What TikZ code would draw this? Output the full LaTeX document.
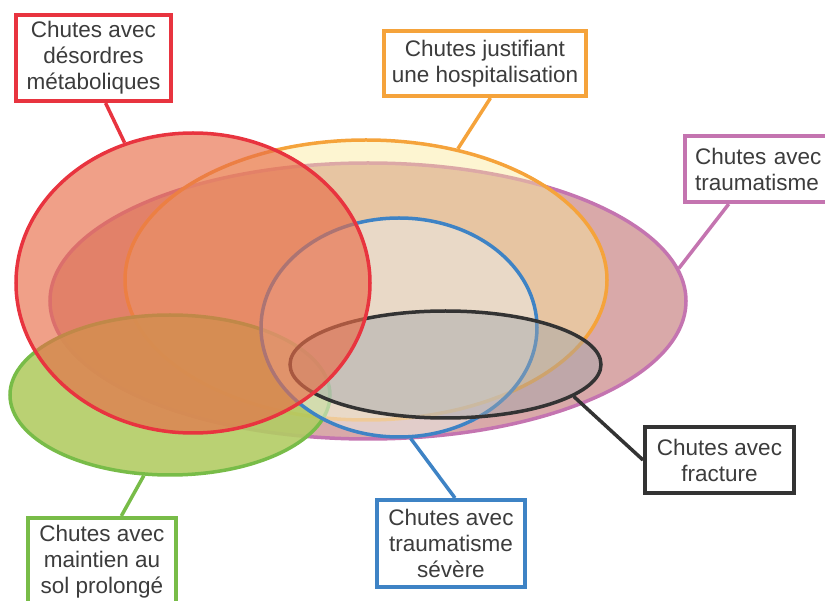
\documentclass[tikz,border=0pt]{standalone}
\usepackage{fontspec}
\setmainfont{Liberation Sans}
\usetikzlibrary{shapes.geometric}
\definecolor{cRed}{RGB}{232,52,63}
\definecolor{cOra}{RGB}{245,163,59}
\definecolor{cPur}{RGB}{196,116,176}
\definecolor{cBlu}{RGB}{62,131,197}
\definecolor{cBla}{RGB}{51,51,51}
\definecolor{cGre}{RGB}{120,188,72}
\definecolor{fPur}{RGB}{217,169,169}
\definecolor{fOra}{RGB}{250,233,154}
\definecolor{fGre}{RGB}{178,204,100}
\definecolor{fBlu}{RGB}{235,235,230}
\definecolor{fBla}{RGB}{160,165,170}
\definecolor{fRed}{RGB}{232,109,72}
\definecolor{txt}{RGB}{60,60,60}
\begin{document}
\begin{tikzpicture}[x=1pt,y=-1pt,
  ell/.style={ellipse, inner sep=0pt, draw, line width=3.5pt},
  lbl/.style={rectangle, draw, line width=4pt, fill=white, inner sep=0pt, align=center,
    font=\fontsize{22.5}{26}\selectfont, text=txt},
  conn/.style={line width=3.5pt}]
\useasboundingbox (0,0) rectangle (825,601);
\clip (0,0) rectangle (825,601);
% ellipses
\node[ell, draw=cPur, fill=fPur, minimum width=636pt, minimum height=276pt] (trauma) at (368,301) {};
\node[ell, draw=cOra, fill=fOra, fill opacity=0.45, minimum width=482pt, minimum height=280pt] (hosp) at (366,280) {};
\node[ell, draw=cGre, fill=fGre, fill opacity=0.9, minimum width=320pt, minimum height=160pt] (sol) at (170,395) {};
\node[ell, draw=cBlu, fill=fBlu, fill opacity=0.55, minimum width=276pt, minimum height=219pt] (severe) at (399,327.5) {};
\node[ell, draw=cBla, fill=fBla, fill opacity=0.45, minimum width=311pt, minimum height=107pt] (fract) at (445.5,364.5) {};
\node[ell, draw=cRed, fill=fRed, fill opacity=0.65, minimum width=354pt, minimum height=300pt] (meta) at (193,283) {};
% label boxes
\node[lbl, draw=cRed, minimum width=155pt, minimum height=86pt] (bmeta) at (93.5,58) {Chutes avec\\désordres\\métaboliques};
\node[lbl, draw=cOra, minimum width=202pt, minimum height=65pt] (bhosp) at (485,63.5) {Chutes justifiant\\une hospitalisation};
\node[lbl, draw=cPur, minimum width=160pt, minimum height=66pt, text width=140pt, align=left] (btrauma) at (765,169) {Chutes avec\\traumatisme};
\node[lbl, draw=cBla, minimum width=149pt, minimum height=66pt] (bfract) at (719.5,460) {Chutes avec\\fracture};
\node[lbl, draw=cBlu, minimum width=148pt, minimum height=87pt] (bsevere) at (451,543.5) {Chutes avec\\traumatisme\\sévère};
\node[lbl, draw=cGre, minimum width=148pt, minimum height=87pt] (bsol) at (102,561.5) {Chutes avec\\maintien au\\sol prolongé};
% connectors
\draw[conn, cRed] (bmeta.-75) -- (meta.116);
\draw[conn, cOra] (bhosp.-81) -- (hosp.55);
\draw[conn, cPur] (btrauma.-136) -- (trauma.6);
\draw[conn, cBla] (bfract.west) -- (fract.-14);
\draw[conn, cBlu] (bsevere.85) -- (severe.-84);
\draw[conn, cGre] (bsol.67) -- (sol.-108);
\end{tikzpicture}
\end{document}
